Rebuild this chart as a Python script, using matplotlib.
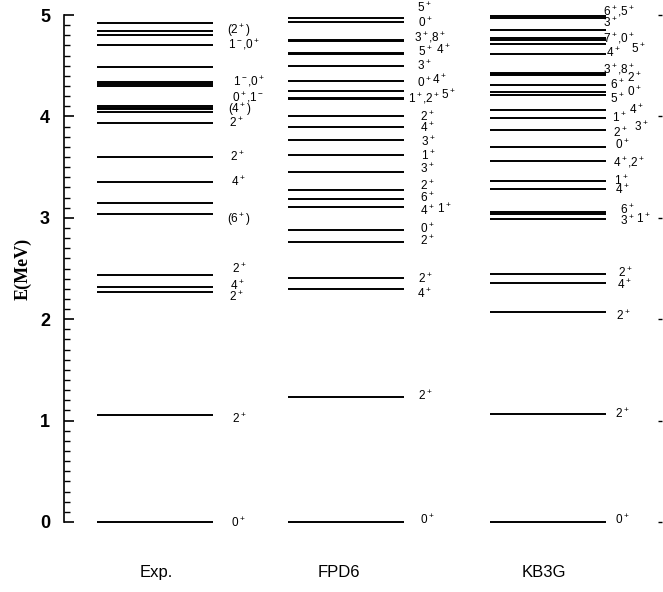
import matplotlib
matplotlib.use('Agg')
import matplotlib.pyplot as plt

plt.rcParams['font.family'] = 'Liberation Sans'
plt.rcParams['mathtext.fontset'] = 'custom'
plt.rcParams['mathtext.rm'] = 'Liberation Sans'
plt.rcParams['mathtext.it'] = 'Liberation Sans:italic'

# level energies (MeV)
exp_levels = [0.0, 1.055, 2.265, 2.32, 2.433, 3.034, 3.149, 3.353, 3.60, 3.932,
              4.040, 4.070, 4.086, 4.103, 4.297, 4.320, 4.342, 4.490, 4.707,
              4.802, 4.838, 4.924]
fpd6_levels = [0.0, 1.233, 2.295, 2.406, 2.758, 2.877, 3.104, 3.185, 3.271,
               3.455, 3.616, 3.767, 3.899, 4.004, 4.168, 4.185, 4.254, 4.349,
               4.497, 4.612, 4.628, 4.740, 4.755, 4.935, 4.968]
kb3g_levels = [0.0, 1.065, 2.068, 2.354, 2.446, 2.985, 3.037, 3.060, 3.281,
               3.366, 3.563, 3.695, 3.866, 3.981, 4.063, 4.211, 4.244, 4.310,
               4.405, 4.418, 4.431, 4.615, 4.714, 4.753, 4.776, 4.852, 4.970,
               4.993]

# spin-parity labels
exp_labels = ['(2$^+$)', '1$^-$,0$^+$', '1$^-$,0$^+$', '0$^+$,1$^-$', '(4$^+$)',
              '2$^+$', '2$^+$', '4$^+$', '(6$^+$)', '2$^+$', '4$^+$', '2$^+$',
              '2$^+$', '0$^+$']
fpd6_labels = ['5$^+$', '0$^+$', '3$^+$,8$^+$', '5$^+$', '4$^+$', '3$^+$', '0$^+$',
               '4$^+$', '1$^+$,2$^+$', '5$^+$', '2$^+$', '4$^+$', '3$^+$', '1$^+$',
               '3$^+$', '2$^+$', '6$^+$', '4$^+$', '1$^+$', '0$^+$', '2$^+$',
               '2$^+$', '4$^+$', '2$^+$', '0$^+$']
kb3g_labels = ['6$^+$,5$^+$', '3$^+$', '7$^+$,0$^+$', '4$^+$', '5$^+$',
               '3$^+$,8$^+$', '2$^+$', '6$^+$', '0$^+$', '5$^+$', '1$^+$', '4$^+$',
               '2$^+$', '3$^+$', '0$^+$', '4$^+$,2$^+$', '1$^+$', '4$^+$', '6$^+$',
               '3$^+$', '1$^+$', '2$^+$', '4$^+$', '2$^+$', '2$^+$', '0$^+$']

# where each label sits (x in pixels, y in MeV)
exp_lab_x = [227, 228, 233, 232, 228, 229, 230, 231, 227, 232, 230, 229, 232, 231]
exp_lab_y = [4.845, 4.707, 4.342, 4.188, 4.063, 3.932, 3.603, 3.353, 2.985,
             2.492, 2.33, 2.222, 1.016, -0.01]
fpd6_lab_x = [417, 418, 414, 418, 436, 417, 417, 432, 408, 441, 420, 420, 421,
              421, 420, 420, 420, 420, 437, 420, 420, 418, 417, 418, 420]
fpd6_lab_y = [5.069, 4.924, 4.776, 4.638, 4.655, 4.497, 4.33, 4.36, 4.172, 4.211,
              3.997, 3.886, 3.748, 3.612, 3.481, 3.317, 3.195, 3.067, 3.087,
              2.89, 2.771, 2.396, 2.249, 1.243, 0.02]
kb3g_lab_x = [603, 603, 603, 606, 631, 603, 627, 610, 627, 610, 612, 629, 613,
              634, 615, 613, 614, 615, 620, 620, 636, 618, 617, 616, 615, 615]
kb3g_lab_y = [5.033, 4.918, 4.770, 4.622, 4.665, 4.458, 4.379, 4.31, 4.244, 4.172,
              3.984, 4.063, 3.836, 3.898, 3.718, 3.54, 3.366, 3.274, 3.075, 2.972,
              2.985, 2.459, 2.337, 2.032, 1.065, 0.02]

columns = ['Exp.', 'FPD6', 'KB3G']

fig = plt.figure(figsize=(6.63, 5.92), dpi=100)
ax = fig.add_axes([64/663, 1-522/592, 598/663, 507/592])
ax.set_xlim(64, 662)
ax.set_ylim(0, 5)

col_start = [97, 288, 490]
col_w = 116
all_levels = [exp_levels, fpd6_levels, kb3g_levels]
all_labels = [exp_labels, fpd6_labels, kb3g_labels]
all_lx = [exp_lab_x, fpd6_lab_x, kb3g_lab_x]
all_ly = [exp_lab_y, fpd6_lab_y, kb3g_lab_y]

for i in range(3):
    for e in all_levels[i]:
        ax.plot([col_start[i], col_start[i] + col_w], [e, e], color='black',
                lw=1.4, solid_capstyle='butt', clip_on=False)
    for t, x, y in zip(all_labels[i], all_lx[i], all_ly[i]):
        ax.text(x, y, t, fontsize=8.5, ha='left', va='center', clip_on=False)

label_x = [156, 339, 544]
for i in range(3):
    ax.text(label_x[i], -0.5, columns[i], fontsize=12, ha='center', va='center',
            clip_on=False)

ax.spines['top'].set_visible(False)
ax.spines['bottom'].set_visible(False)
ax.spines['right'].set_visible(False)
ax.spines['left'].set_linewidth(1.2)
ax.set_xticks([])
ax.set_yticks([0, 1, 2, 3, 4, 5])
ax.set_yticks([k / 10 for k in range(51)], minor=True)
ax.tick_params(axis='y', which='major', direction='in', length=7, width=1.2,
               labelsize=13, pad=10)
ax.tick_params(axis='y', which='minor', direction='in', length=4, width=1)
for lab in ax.get_yticklabels():
    lab.set_fontweight('bold')

# small marks on the right edge
ax2 = ax.twinx()
ax2.set_ylim(0, 5)
ax2.set_yticks([0, 1, 2, 3, 4, 5])
ax2.set_yticklabels([])
ax2.tick_params(axis='y', direction='in', length=3, width=1)
for s in ax2.spines.values():
    s.set_visible(False)

ax.set_ylabel('E(MeV)', family='Liberation Serif', fontweight='bold', fontsize=13,
              labelpad=6)

plt.savefig('out.png', dpi=100)
